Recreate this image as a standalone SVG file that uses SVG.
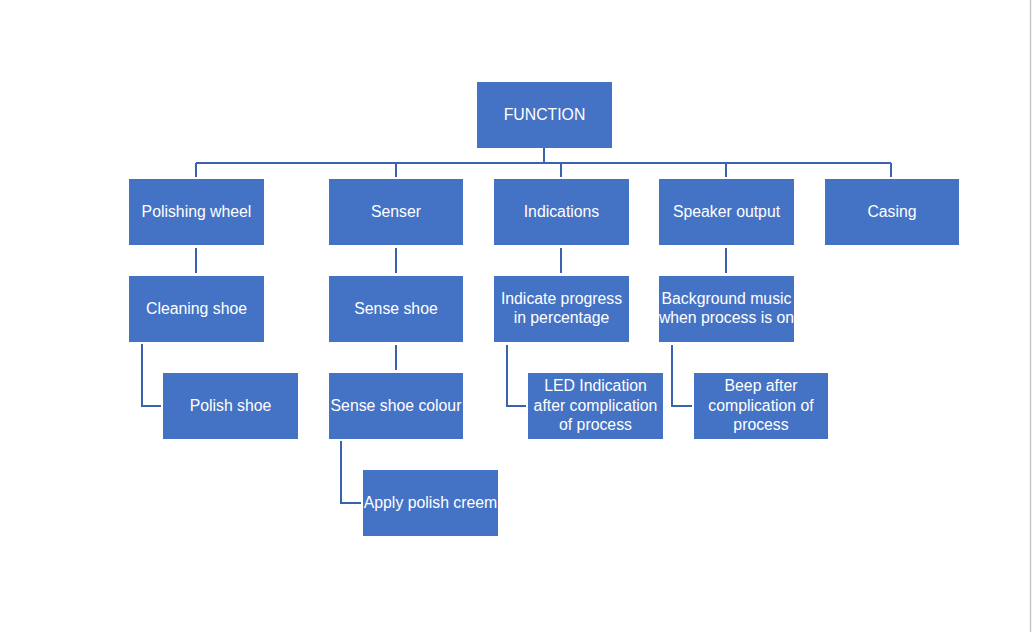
<svg xmlns="http://www.w3.org/2000/svg" width="1032" height="632" viewBox="0 0 1032 632">
<style>
.n{fill:#4472C4}
.t{fill:#fff;font-family:"Liberation Sans",Arial,sans-serif;font-size:15.8px;text-anchor:middle}
.c{fill:none;stroke:#3B62AE;stroke-width:2}
</style>
<rect width="1032" height="632" fill="#fff"/>
<line x1="1030.5" y1="0" x2="1030.5" y2="632" stroke="#c8c8c8" stroke-width="1.5"/>
<g id="connectors">
<path class="c" d="M544 148V163M196 163H891M196 163V177M396 163V177M561 163V177M726 163V177M891 163V177"/>
<path class="c" d="M196 248V273M396 248V273M561 248V273M726 248V273M396 345V370"/>
<path class="c" d="M142 344V406H161M341 441V503H361M507 345V406H526M672 345V406H692"/>
</g>
<g id="function"><rect class="n" x="477" y="82" width="135" height="66"/><text class="t" x="544.5" y="120">FUNCTION</text></g>
<g id="polishing-wheel"><rect class="n" x="129" y="179" width="135" height="66"/><text class="t" x="196.5" y="217">Polishing wheel</text></g>
<g id="senser"><rect class="n" x="329" y="179" width="134" height="66"/><text class="t" x="396" y="217">Senser</text></g>
<g id="indications"><rect class="n" x="494" y="179" width="135" height="66"/><text class="t" x="561.5" y="217">Indications</text></g>
<g id="speaker-output"><rect class="n" x="659" y="179" width="135" height="66"/><text class="t" x="726.5" y="217">Speaker output</text></g>
<g id="casing"><rect class="n" x="825" y="179" width="134" height="66"/><text class="t" x="892" y="217">Casing</text></g>
<g id="cleaning-shoe"><rect class="n" x="129" y="276" width="135" height="66"/><text class="t" x="196.5" y="314">Cleaning shoe</text></g>
<g id="sense-shoe"><rect class="n" x="329" y="276" width="134" height="66"/><text class="t" x="396" y="314">Sense shoe</text></g>
<g id="indicate-progress"><rect class="n" x="494" y="276" width="135" height="66"/><text class="t" x="561.5" y="304">Indicate progress</text><text class="t" x="561.5" y="323">in percentage</text></g>
<g id="background-music"><rect class="n" x="659" y="276" width="135" height="66"/><text class="t" x="726.5" y="304">Background music</text><text class="t" x="726.5" y="323">when process is on</text></g>
<g id="polish-shoe"><rect class="n" x="163" y="373" width="135" height="66"/><text class="t" x="230.5" y="411">Polish shoe</text></g>
<g id="sense-shoe-colour"><rect class="n" x="329" y="373" width="134" height="66"/><text class="t" x="396" y="411">Sense shoe colour</text></g>
<g id="led-indication"><rect class="n" x="528" y="373" width="135" height="66"/><text class="t" x="595.5" y="391">LED Indication</text><text class="t" x="595.5" y="410.5">after complication</text><text class="t" x="595.5" y="430">of process</text></g>
<g id="beep"><rect class="n" x="694" y="373" width="134" height="66"/><text class="t" x="761" y="391">Beep after</text><text class="t" x="761" y="410.5">complication of</text><text class="t" x="761" y="430">process</text></g>
<g id="apply-polish"><rect class="n" x="363" y="470" width="135" height="66"/><text class="t" x="430.5" y="508">Apply polish creem</text></g>
</svg>
